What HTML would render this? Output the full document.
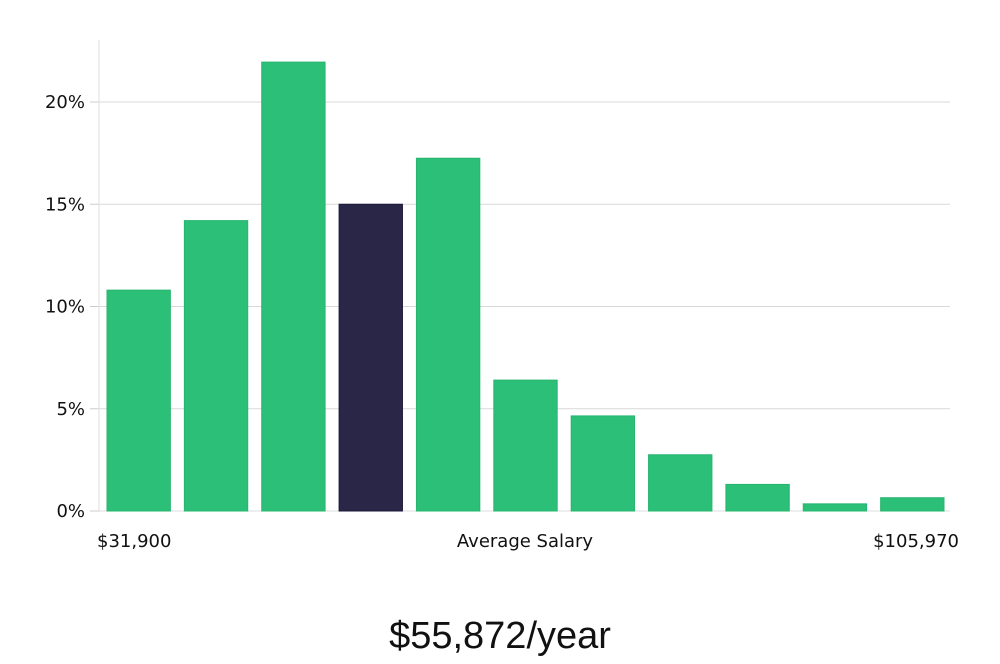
<!DOCTYPE html>
<html><head><meta charset="utf-8"><style>
body{margin:0;background:#fff;width:1000px;height:660px;overflow:hidden;font-family:"DejaVu Sans","Liberation Sans",sans-serif}
</style></head><body>
<svg id="chart" width="1000" height="660" xmlns="http://www.w3.org/2000/svg"></svg>
<script>
const categories=["b1","b2","b3","b4","b5","b6","b7","b8","b9","b10","b11"];
const values=[10.8,14.2,21.95,15.0,17.25,6.4,4.65,2.75,1.3,0.35,0.65];
const highlightIndex=3;
const yTicks=[0,5,10,15,20];
const yTickLabels=["0%","5%","10%","15%","20%"];
const xLabels=["$31,900","Average Salary","$105,970"];
const title="$55,872/year";

const svg=document.getElementById('chart');
const NS='http://www.w3.org/2000/svg';
const L=99,R=950,B=511,T=40;
const y=v=>B-v*(511-102)/20;
const slot=(R-L)/categories.length;
const x=i=>L+i*slot;
function mk(t,a){const e=document.createElementNS(NS,t);for(const k in a)e.setAttribute(k,a[k]);svg.appendChild(e);return e;}
yTicks.forEach((t,i)=>{
  if(t>0){const g=mk('line',{x1:L,x2:R,y1:y(t),y2:y(t),stroke:'#d9d9d9','stroke-width':1});
  
  }
  const tk=mk('line',{x1:L-9,x2:L,y1:y(t),y2:y(t),stroke:'#ccc','stroke-width':1});
  
  
  const tx=mk('text',{x:L-14,y:y(t)+6,'text-anchor':'end','font-size':18,fill:'#111'});
  tx.textContent=yTickLabels[i];
  
  
});
const ax=mk('line',{x1:L,x2:L,y1:T,y2:B,stroke:'#ddd','stroke-width':1});


const bx=mk('line',{x1:L,x2:R,y1:B,y2:B,stroke:'#ddd','stroke-width':1});


values.forEach((v,i)=>{
  const hl=i===highlightIndex;
  const r=mk('rect',{x:x(i)+8,y:y(v),width:slot-14,height:B-y(v),fill:hl?'#292647':'#2bbf78',stroke:hl?'#1c1a3a':'#27b56f','stroke-width':1});
  
  
});
const xl=[[97,'start'],[525,'middle'],[959,'end']];
xLabels.forEach((s,i)=>{
  const t=mk('text',{x:xl[i][0],y:547,'text-anchor':xl[i][1],'font-size':18,fill:'#111'});
  t.textContent=s;
  
  
});
const tt=mk('text',{x:500,y:648,'text-anchor':'middle','font-size':38,fill:'#111','font-family':'"Liberation Sans",sans-serif','font-weight':'300'});
tt.textContent=title;


</script>
</body></html>
